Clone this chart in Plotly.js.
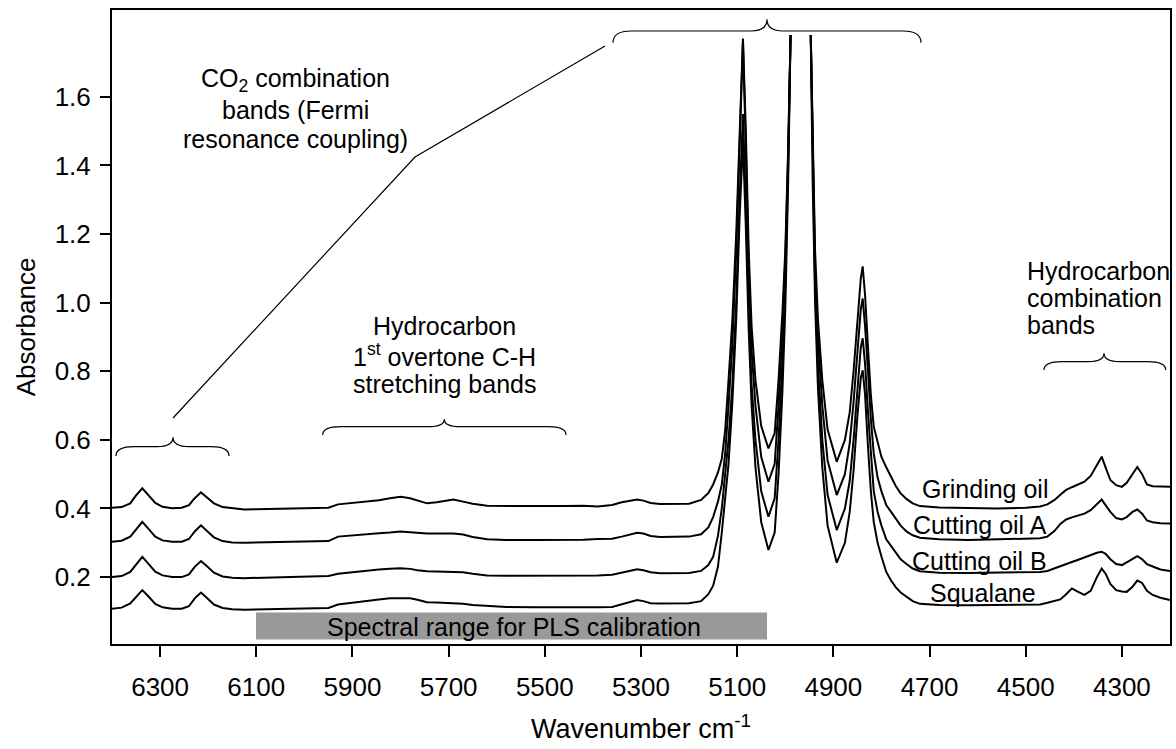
<!DOCTYPE html>
<html>
<head>
<meta charset="utf-8">
<script src="https://cdn.plot.ly/plotly-3.0.1.min.js"></script>
<style>
  html, body { margin: 0; padding: 0; background: #ffffff; }
  #chart { width: 1176px; height: 749px; }
</style>
</head>
<body>
<div id="chart"></div>
<script>
// ---- Data ----
const wavenumber = [6400,6380,6362,6350,6337,6325,6310,6295,6275,6255,6240,6228,6215,6203,6188,6170,6150,6125,6100,6050,6000,5950,5930,5900,5870,5845,5822,5800,5780,5765,5745,5725,5705,5690,5670,5650,5620,5580,5520,5460,5420,5390,5360,5340,5320,5308,5295,5280,5260,5230,5200,5175,5160,5150,5140,5132,5125,5118,5110,5102,5095,5088,5082,5076,5070,5062,5050,5035,5022,5014,5006,5000,4994,4989,4968,4947,4943,4938,4932,4923,4912,4893,4876,4866,4858,4850,4843,4839,4834,4828,4822,4816,4808,4800,4790,4780,4770,4760,4748,4735,4720,4680,4620,4560,4500,4470,4455,4440,4428,4416,4404,4392,4378,4365,4352,4342,4334,4324,4312,4300,4290,4278,4268,4258,4248,4236,4220,4200];

const grindingOil = [0.402,0.404,0.415,0.438,0.459,0.440,0.416,0.405,0.401,0.402,0.410,0.430,0.447,0.433,0.415,0.404,0.400,0.397,0.398,0.400,0.401,0.402,0.412,0.416,0.420,0.424,0.430,0.434,0.430,0.424,0.415,0.418,0.422,0.426,0.420,0.414,0.408,0.407,0.407,0.407,0.408,0.406,0.410,0.418,0.424,0.426,0.423,0.416,0.413,0.413,0.414,0.425,0.445,0.470,0.505,0.545,0.628,0.774,0.95,1.20,1.50,1.77,1.50,1.15,0.93,0.774,0.64,0.575,0.62,0.774,0.97,1.15,1.45,1.78,null,1.78,1.45,1.15,0.95,0.774,0.63,0.536,0.60,0.68,0.80,0.96,1.07,1.106,1.02,0.87,0.73,0.638,0.59,0.55,0.52,0.49,0.465,0.444,0.428,0.415,0.407,0.403,0.401,0.400,0.402,0.406,0.412,0.425,0.440,0.454,0.462,0.470,0.478,0.495,0.525,0.551,0.520,0.483,0.468,0.463,0.475,0.500,0.521,0.500,0.470,0.465,0.464,0.463];

const cuttingOilA = [0.303,0.306,0.318,0.340,0.361,0.342,0.318,0.307,0.303,0.303,0.311,0.333,0.351,0.335,0.316,0.305,0.301,0.300,0.301,0.302,0.303,0.305,0.318,0.322,0.325,0.328,0.330,0.333,0.331,0.329,0.327,0.327,0.327,0.327,0.324,0.317,0.310,0.308,0.308,0.308,0.309,0.311,0.312,0.318,0.325,0.329,0.327,0.320,0.317,0.317,0.318,0.325,0.345,0.375,0.420,0.470,0.560,0.700,0.88,1.15,1.47,1.76,1.45,1.10,0.86,0.70,0.55,0.478,0.53,0.70,0.92,1.12,1.43,1.78,null,1.78,1.43,1.10,0.90,0.70,0.54,0.439,0.50,0.59,0.71,0.87,0.98,1.012,0.93,0.80,0.66,0.56,0.49,0.45,0.41,0.39,0.37,0.35,0.333,0.322,0.315,0.310,0.308,0.310,0.312,0.313,0.318,0.335,0.355,0.368,0.374,0.380,0.385,0.395,0.412,0.426,0.410,0.390,0.372,0.368,0.375,0.390,0.397,0.385,0.365,0.360,0.357,0.356];

const cuttingOilB = [0.200,0.203,0.215,0.237,0.259,0.240,0.216,0.205,0.200,0.200,0.208,0.230,0.247,0.232,0.213,0.202,0.198,0.197,0.198,0.199,0.200,0.203,0.210,0.214,0.220,0.222,0.224,0.226,0.224,0.220,0.217,0.216,0.216,0.215,0.214,0.210,0.205,0.204,0.204,0.204,0.205,0.205,0.207,0.213,0.220,0.223,0.220,0.214,0.211,0.211,0.212,0.218,0.235,0.259,0.320,0.400,0.500,0.600,0.76,1.00,1.30,1.55,1.28,0.98,0.76,0.60,0.45,0.376,0.43,0.60,0.83,1.05,1.40,1.78,null,1.78,1.40,1.05,0.82,0.60,0.44,0.337,0.40,0.48,0.60,0.76,0.87,0.896,0.82,0.68,0.55,0.45,0.39,0.35,0.31,0.29,0.27,0.252,0.238,0.225,0.217,0.213,0.212,0.213,0.214,0.215,0.218,0.225,0.232,0.238,0.244,0.250,0.258,0.265,0.271,0.274,0.268,0.252,0.238,0.235,0.243,0.255,0.261,0.252,0.238,0.231,0.222,0.218];

const squalane = [0.108,0.111,0.123,0.143,0.162,0.145,0.122,0.112,0.108,0.108,0.115,0.138,0.155,0.140,0.120,0.110,0.106,0.105,0.106,0.107,0.108,0.110,0.120,0.126,0.131,0.135,0.138,0.138,0.138,0.134,0.127,0.126,0.125,0.124,0.122,0.119,0.117,0.113,0.112,0.111,0.111,0.112,0.113,0.120,0.128,0.133,0.130,0.124,0.123,0.123,0.124,0.130,0.150,0.175,0.230,0.330,0.420,0.530,0.71,0.95,1.25,1.47,1.22,0.92,0.70,0.52,0.36,0.279,0.33,0.50,0.74,0.98,1.35,1.78,null,1.78,1.35,1.00,0.75,0.52,0.35,0.242,0.30,0.39,0.51,0.67,0.78,0.803,0.73,0.58,0.45,0.36,0.30,0.26,0.215,0.19,0.17,0.155,0.142,0.130,0.122,0.119,0.118,0.118,0.118,0.120,0.125,0.130,0.135,0.150,0.167,0.158,0.148,0.160,0.200,0.225,0.210,0.180,0.162,0.158,0.157,0.172,0.190,0.183,0.160,0.148,0.140,0.133];

const seriesNames = ["Grinding oil", "Cutting oil A", "Cutting oil B", "Squalane"];
const seriesValues = [grindingOil, cuttingOilA, cuttingOilB, squalane];

const xTickVals = [6300, 6100, 5900, 5700, 5500, 5300, 5100, 4900, 4700, 4500, 4300];
const yTickVals = [0.2, 0.4, 0.6, 0.8, 1.0, 1.2, 1.4, 1.6];
const xRange = [6400, 4200];
const yRange = [0.005, 1.853];

// ---- Layout helpers (pixel -> paper) ----
const W = 1176, H = 749;
const M = { l: 112, r: 6, t: 10, b: 105 };
const PW = W - M.l - M.r, PH = H - M.t - M.b;
const X = px => (px - M.l) / PW;
const Y = py => (H - M.b - py) / PH;
const FONT = "Arial, 'Liberation Sans', Helvetica, sans-serif";

function brace(L, R, C, E, Hh, T) {
  const e = 18, c = 16;
  return `M ${X(L)},${Y(E)} Q ${X(L)},${Y(Hh)} ${X(L + e)},${Y(Hh)} ` +
         `L ${X(C - c)},${Y(Hh)} Q ${X(C)},${Y(Hh)} ${X(C)},${Y(T)} ` +
         `Q ${X(C)},${Y(Hh)} ${X(C + c)},${Y(Hh)} ` +
         `L ${X(R - e)},${Y(Hh)} Q ${X(R)},${Y(Hh)} ${X(R)},${Y(E)}`;
}

const traces = seriesNames.map((name, i) => ({
  type: 'scatter', mode: 'lines', name: name,
  x: wavenumber, y: seriesValues[i],
  line: { color: '#000000', width: 2 },
  connectgaps: false, hoverinfo: 'x+y+name'
}));

const thin = { color: '#000000', width: 1.2 };
const shapes = [
  { type: 'rect', xref: 'paper', yref: 'paper', x0: X(256), x1: X(767), y0: Y(639.5), y1: Y(612.5),
    fillcolor: '#999999', line: { width: 0 }, layer: 'below' },
  { type: 'path', xref: 'paper', yref: 'paper', path: `M ${X(173)},${Y(418)} L ${X(415)},${Y(157)} L ${X(605)},${Y(46)}`, line: thin },
  { type: 'path', xref: 'paper', yref: 'paper', path: brace(116, 229, 173, 456, 446.7, 437.3), line: thin },
  { type: 'path', xref: 'paper', yref: 'paper', path: brace(613, 921, 767, 42.7, 31, 19.3), line: thin },
  { type: 'path', xref: 'paper', yref: 'paper', path: brace(322.7, 566, 444.3, 435, 426.7, 419.3), line: thin },
  { type: 'path', xref: 'paper', yref: 'paper', path: brace(1044, 1165.7, 1104, 370, 361.7, 353.3), line: thin }
];

function ann(text, x, y, anchor) {
  return { text: text, xref: 'paper', yref: 'paper', x: X(x), y: Y(y),
           xanchor: anchor || 'center', yanchor: 'middle', showarrow: false,
           font: { family: FONT, size: 25, color: '#000000' } };
}

const annotations = [
  ann('CO<sub>2</sub> combination', 295, 80),
  ann('bands (Fermi', 295, 110),
  ann('resonance coupling)', 295, 139),
  ann('Hydrocarbon', 444, 326),
  ann('1<sup>st</sup> overtone C-H', 444, 355),
  ann('stretching bands', 444, 384),
  ann('Hydrocarbon', 1025, 271, 'left'),
  ann('combination', 1025, 298, 'left'),
  ann('bands', 1025, 325, 'left'),
  ann('Grinding oil', 985, 489),
  ann('Cutting oil A', 980, 525),
  ann('Cutting oil B', 979.5, 561),
  ann('Squalane', 983, 593),
  ann('Spectral range for PLS calibration', 514, 627)
];

const layout = {
  width: W, height: H,
  margin: M,
  paper_bgcolor: '#ffffff', plot_bgcolor: '#ffffff',
  showlegend: false,
  font: { family: FONT, color: '#000000' },
  xaxis: {
    range: xRange, autorange: false,
    tickmode: 'array', tickvals: xTickVals,
    ticks: 'outside', ticklen: 11, tickwidth: 2, tickcolor: '#000000',
    showgrid: false, zeroline: false,
    showline: true, linewidth: 2, linecolor: '#000000', mirror: true,
    tickfont: { family: FONT, size: 26, color: '#000000' },
    ticklabelstandoff: 8,
    title: { text: 'Wavenumber cm<sup>-1</sup>', font: { family: FONT, size: 27, color: '#000000' }, standoff: 18 }
  },
  yaxis: {
    range: yRange, autorange: false,
    tickmode: 'array', tickvals: yTickVals, ticktext: yTickVals.map(v => v.toFixed(1)),
    ticks: 'outside', ticklen: 10, tickwidth: 2, tickcolor: '#000000',
    showgrid: false, zeroline: false,
    showline: true, linewidth: 2, linecolor: '#000000', mirror: true,
    tickfont: { family: FONT, size: 26, color: '#000000' },
    ticklabelstandoff: 4,
    title: { text: 'Absorbance', font: { family: FONT, size: 26, color: '#000000' }, standoff: 12 }
  },
  shapes: shapes,
  annotations: annotations
};

Plotly.newPlot('chart', traces, layout, { displayModeBar: false, staticPlot: true });
</script>
</body>
</html>
